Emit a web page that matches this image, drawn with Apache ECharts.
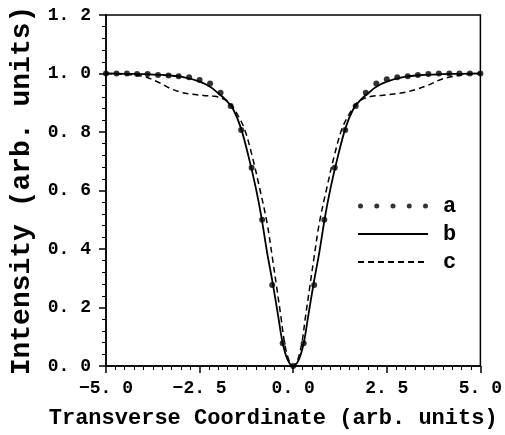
<!DOCTYPE html>
<html>
<head>
<meta charset="utf-8">
<script src="https://cdn.jsdelivr.net/npm/echarts@6/dist/echarts.min.js"></script>
<style>
  html, body { margin: 0; padding: 0; background: #fff; }
  #chart { width: 505px; height: 435px; }
</style>
</head>
<body>
<div id="chart"></div>
<script>
// a: measured points (dots)
const dotsX = [-5, -4.72, -4.44, -4.17, -3.89, -3.61, -3.33, -3.06, -2.78, -2.5, -2.22, -1.94, -1.67, -1.39, -1.11, -0.83, -0.56, -0.28, 0,
  0.28, 0.56, 0.83, 1.11, 1.39, 1.67, 1.94, 2.22, 2.5, 2.78, 3.06, 3.33, 3.61, 3.89, 4.17, 4.44, 4.72, 5]
const dotsY = [1.0, 1.0, 1.0, 0.998, 0.998, 0.995, 0.993, 0.991, 0.987, 0.978, 0.966, 0.934, 0.889, 0.807, 0.678, 0.5, 0.277, 0.078, 0,
  0.078, 0.277, 0.5, 0.678, 0.807, 0.889, 0.934, 0.966, 0.98, 0.987, 0.991, 0.995, 0.998, 1.0, 1.0, 1.0, 1.0, 1.0]

// b: solid curve
const solidX = [-5, -4.5, -4, -3.5, -3, -2.5, -2.2, -2, -1.8, -1.6, -1.4, -1.2, -1, -0.85, -0.7, -0.55, -0.4, -0.28, -0.15, 0,
  0.15, 0.28, 0.4, 0.55, 0.7, 0.85, 1, 1.2, 1.4, 1.6, 1.8, 2, 2.2, 2.5, 3, 3.5, 4, 4.5, 5]
const solidY = [1.0, 0.999, 0.998, 0.995, 0.989, 0.972, 0.953, 0.932, 0.91, 0.877, 0.815, 0.72, 0.61, 0.51, 0.39, 0.285, 0.17, 0.078, 0.022, 0,
  0.022, 0.078, 0.17, 0.285, 0.39, 0.51, 0.61, 0.72, 0.815, 0.877, 0.91, 0.932, 0.953, 0.972, 0.989, 0.995, 0.998, 0.999, 1.0]

// c: dashed curve
const dashX = [-5, -4.5, -4, -3.6, -3.3, -3, -2.7, -2.4, -2.1, -1.9, -1.7, -1.5, -1.3, -1.1, -0.9, -0.7, -0.55, -0.45, -0.33, -0.23, -0.12, 0,
  0.12, 0.23, 0.33, 0.45, 0.55, 0.7, 0.9, 1.1, 1.3, 1.5, 1.7, 1.9, 2.1, 2.4, 2.7, 3, 3.3, 3.6, 4, 4.5, 5]
const dashY = [1.0, 0.997, 0.99, 0.97, 0.95, 0.936, 0.929, 0.925, 0.922, 0.915, 0.9, 0.862, 0.81, 0.72, 0.61, 0.49, 0.365, 0.277, 0.17, 0.078, 0.022, 0,
  0.022, 0.078, 0.17, 0.277, 0.365, 0.49, 0.61, 0.72, 0.81, 0.862, 0.9, 0.915, 0.922, 0.926, 0.93, 0.936, 0.946, 0.96, 0.982, 0.995, 1.0]

const legendNames = ['a', 'b', 'c']

const pairs = (xs, ys) => xs.map((x, i) => [x, ys[i]])
const fmt = (v) => v.toFixed(1).replace('-', '\u2212').replace('.', '. ')

const font = 'Liberation Mono'
const noSymbol = { color: 'rgba(0,0,0,0)', borderWidth: 0 }
const chart = echarts.init(document.getElementById('chart'))

const option = {
  backgroundColor: '#fff',
  animation: false,
  grid: {
    left: 103, right: 24, top: 15, bottom: 69,
    show: true, borderColor: '#000', borderWidth: 1.5
  },
  legend: {
    orient: 'vertical',
    left: 352,
    top: 190,
    itemWidth: 70,
    itemHeight: 5,
    itemGap: 6,
    data: [
      { name: legendNames[0], icon: 'path://M0,2.5a2.5,2.5 0 1,0 5,0a2.5,2.5 0 1,0 -5,0M16.25,2.5a2.5,2.5 0 1,0 5,0a2.5,2.5 0 1,0 -5,0M32.5,2.5a2.5,2.5 0 1,0 5,0a2.5,2.5 0 1,0 -5,0M48.75,2.5a2.5,2.5 0 1,0 5,0a2.5,2.5 0 1,0 -5,0M65,2.5a2.5,2.5 0 1,0 5,0a2.5,2.5 0 1,0 -5,0' },
      { name: legendNames[1], itemStyle: noSymbol },
      { name: legendNames[2], itemStyle: noSymbol }
    ],
    textStyle: { fontFamily: font, fontWeight: 'bold', fontSize: 22, color: '#000', lineHeight: 21, padding: [0, 0, 0, 10] },
    selectedMode: false
  },
  xAxis: {
    type: 'value',
    min: -5, max: 5, interval: 2.5,
    name: 'Transverse Coordinate (arb. units)',
    nameLocation: 'middle',
    nameGap: 41,
    nameTextStyle: { fontFamily: font, fontWeight: 'bold', fontSize: 22, color: '#000', padding: [0, 40, 0, 0] },
    axisLine: { onZero: false, lineStyle: { color: '#000', width: 1.5 } },
    axisTick: { length: 7, lineStyle: { color: '#000', width: 1.5 } },
    minorTick: { show: true, splitNumber: 10, length: 4, lineStyle: { color: '#000', width: 1 } },
    splitLine: { show: false },
    axisLabel: { formatter: fmt, fontFamily: font, fontWeight: 'bold', fontSize: 18, color: '#000', margin: 13 }
  },
  yAxis: {
    type: 'value',
    min: 0, max: 1.2, interval: 0.2,
    name: 'Intensity (arb. units)',
    nameLocation: 'middle',
    nameGap: 70,
    nameTextStyle: { fontFamily: font, fontWeight: 'bold', fontSize: 28, color: '#000' },
    axisLine: { onZero: false, lineStyle: { color: '#000', width: 1.5 } },
    axisTick: { length: 7, lineStyle: { color: '#000', width: 1.5 } },
    minorTick: { show: true, splitNumber: 5, length: 4, lineStyle: { color: '#000', width: 1 } },
    splitLine: { show: false },
    axisLabel: { formatter: fmt, fontFamily: font, fontWeight: 'bold', fontSize: 18, color: '#000', margin: 15 }
  },
  series: [
    {
      name: legendNames[0],
      type: 'scatter',
      data: pairs(dotsX, dotsY),
      symbol: 'circle',
      symbolSize: 6,
      clip: false,
      itemStyle: { color: '#000' },
      z: 3
    },
    {
      name: legendNames[1],
      type: 'line',
      data: pairs(solidX, solidY),
      smooth: 0.35,
      showSymbol: false,
      symbol: 'none',
      lineStyle: { color: '#000', width: 1.8 },
      itemStyle: { color: '#000' }
    },
    {
      name: legendNames[2],
      type: 'line',
      data: pairs(dashX, dashY),
      smooth: 0.35,
      showSymbol: false,
      symbol: 'none',
      lineStyle: { color: '#000', width: 1.5, type: [6, 4] },
      itemStyle: { color: '#000' }
    }
  ]
}

chart.setOption(option)
</script>
</body>
</html>
